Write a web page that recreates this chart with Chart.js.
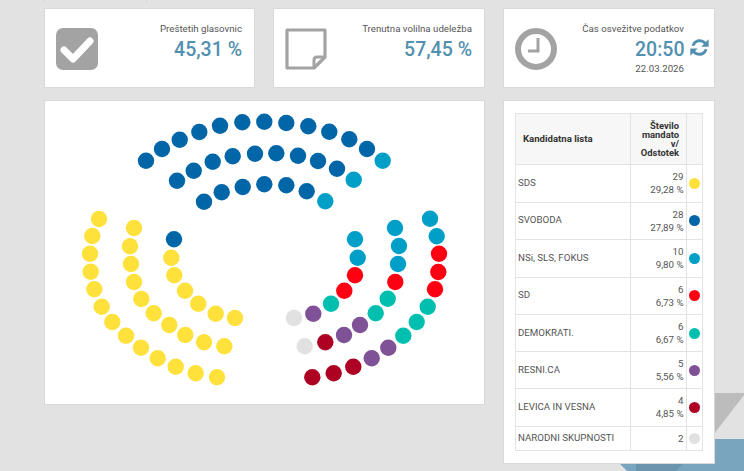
<!DOCTYPE html>
<html lang="sl"><head><meta charset="utf-8">
<script src="https://cdn.jsdelivr.net/npm/chart.js@4"></script>
<style>
html,body{margin:0;padding:0;width:744px;height:471px;overflow:hidden;background:#e2e2e2;font-family:Roboto,sans-serif;color:#555}
.abs{position:absolute}
.card{position:absolute;background:#fff;box-sizing:border-box;border:1px solid #d9d9d9}
.lbl{position:absolute;right:12px;top:12.500px;font-size:9.7px;line-height:13px;white-space:nowrap;color:#555}
.val{position:absolute;right:12px;top:29px;font-size:19.500px;line-height:24px;font-weight:500;color:#5290b0;white-space:nowrap}
table{position:absolute;left:515px;top:113px;width:187px;border-collapse:collapse;table-layout:fixed;font-size:9.7px;line-height:13px;color:#555}
td,th{border:1px solid #e3e3e3;padding:0;box-sizing:border-box}
th{background:#f7f7f7;color:#333;font-weight:700;font-size:9.4px;line-height:9.1px}
td.n{padding-left:2px;padding-bottom:2px}
td.v{text-align:right;padding-right:2.5px;line-height:13px}
.dot{display:block;width:11px;height:11px;border-radius:50%;margin:0 auto}
</style></head><body>
<svg class="abs" style="left:0;top:0" width="744" height="471">
<polygon points="714,393 744,393 744,395 714,434" fill="#bcbcbc"/>
<polygon points="714,439 744,439 744,471 714,471" fill="#7aa5bf"/>
<polygon points="619,463 714,463 714,471 627,471" fill="#7aa5bf"/>
<polygon points="636,463 684,463 676,471 636,471" fill="#6b95ae"/>
<rect x="44" y="0" width="1" height="2" fill="#d4d4d4"/><rect x="146" y="0" width="1" height="2" fill="#d4d4d4"/>
</svg>

<div class="card" style="left:44px;top:8px;width:211px;height:80px">
<svg class="abs" style="left:11px;top:19px" width="42" height="42"><rect x="0" y="0" width="42" height="42" rx="7" fill="#a3a3a3"/><path d="M8 22 L17 31 L34 13" fill="none" stroke="#fff" stroke-width="7" stroke-linejoin="round" stroke-linecap="round"/></svg>
<div class="lbl">Preštetih glasovnic</div><div class="val">45,31 %</div></div>

<div class="card" style="left:273px;top:8px;width:212px;height:80px">
<svg class="abs" style="left:11px;top:19px" width="42" height="42"><path d="M2 2 H40 V29 L29 40 H2 Z" fill="none" stroke="#a3a3a3" stroke-width="3.2" stroke-linejoin="round"/><path d="M40 29 H32 Q29 29 29 32 V40" fill="none" stroke="#a3a3a3" stroke-width="3"/></svg>
<div class="lbl">Trenutna volilna udeležba</div><div class="val">57,45 %</div></div>

<div class="card" style="left:503px;top:8px;width:212px;height:80px">
<svg class="abs" style="left:11px;top:19px" width="42" height="42"><circle cx="21" cy="21" r="18" fill="none" stroke="#a3a3a3" stroke-width="6"/><path d="M23 10 V23 H13" fill="none" stroke="#a3a3a3" stroke-width="3"/></svg>
<div class="lbl" style="right:30px">Čas osvežitve podatkov</div>
<div class="val" style="right:29.500px">20:50</div>
<svg class="abs" style="right:4px;top:28px" width="21" height="21" viewBox="0 0 24 24"><path d="M3 10 C4 5 8 2.500 12 2.500 C15 2.500 17.500 3.800 19.200 5.700 L22.500 2.500 V11 H14 L17 8 C15.800 6.700 14 6 12 6 C9 6 7 7.800 6.400 10 Z M21 14 C20 19 16 21.500 12 21.500 C9 21.500 6.500 20.200 4.800 18.300 L1.500 21.500 V13 H10 L7 16 C8.200 17.300 10 18 12 18 C15 18 17 16.200 17.600 14 Z" fill="#5290b0"/></svg>
<div class="lbl" style="right:30px;top:53px">22.03.2026</div></div>

<div class="card" style="left:44px;top:100px;width:441px;height:305px"></div>
<canvas id="seats" class="abs" style="left:44px;top:100px" width="440" height="304"></canvas>

<div class="card" style="left:503px;top:100px;width:212px;height:364px"></div>
<table id="t"><colgroup><col style="width:115px"><col style="width:56px"><col style="width:16px"></colgroup>
<thead><tr style="height:51px"><th style="text-align:left;padding-left:7px;font-size:9.6px">Kandidatna lista</th><th style="text-align:right;padding-right:7px">Število<br>mandato<br>v/<br>Odstotek</th><th></th></tr></thead><tbody></tbody></table>

<script>
const parties  = ["SDS","SVOBODA","NSi, SLS, FOKUS","SD","DEMOKRATI.","RESNI.CA","LEVICA IN VESNA","NARODNI SKUPNOSTI"];
const mandates = [29,28,10,6,6,5,4,2];
const percents = ["29,28 %","27,89 %","9,80 %","6,73 %","6,67 %","5,56 %","4,85 %",""];
const colors   = ["#ffe13b","#0066a8","#009fc8","#ff0013","#00bfae","#7f5196","#ad0022","#e1e1e1"];

const seatsSDS = [[99,219],[92.3,236],[90,253.7],[90.7,271.7],[94.3,289.3],[101.7,306.7],[112.3,322],[126,335.7],[141,347.7],[157.7,358.3],[175.7,366.7],[195.7,373.3],[217,377.3],
 [134,228],[130,246.3],[131,264],[134,282],[141.3,299],[153.7,313.3],[169.3,325],[185.3,335],[204,342.3],[224.3,346.3],
 [171.3,257.7],[174.3,275.3],[185,290.7],[198.3,303.7],[215.7,313.7],[235,318]];
const seatsSvoboda = [[146,160.7],[162,149],[179.7,139.7],[199.3,132],[220,125.7],[242.3,122.3],[264.3,121.7],[286.3,123],[308.3,126.3],[329.3,131.7],[349.3,139.3],[367,149],
 [177,180.7],[193.7,170.7],[212.7,161.7],[232.7,156.3],[255,153.7],[276.3,153.3],[298,155.7],[318,161],[337,168.7],
 [204,201.7],[221.7,192.3],[242.7,187],[264.3,184.3],[286.3,185.3],[306.7,191.3],
 [174,239.3]];
const seatsNSi = [[382.7,160.7],[353.7,179.7],[325.3,201.3],[430,218.7],[436.7,236.3],[395,228],[399,246],[398,264],[355,239.3],[357.7,257.7]];
const seatsSD = [[439,253.7],[438.3,272],[435,289.3],[395.3,282],[355,275.3],[344.3,290.7]];
const seatsDemokrati = [[427.7,306.7],[416.7,322],[403.3,335.7],[387.7,298.7],[375.7,313.3],[331,303.7]];
const seatsResni = [[388.3,347.7],[371.7,358.3],[360,325],[344,335],[313.3,313.7]];
const seatsLevica = [[353.3,366.7],[333.7,373.3],[312.3,377.3],[325.3,342.3]];
const seatsNarodni = [[304.7,346.3],[294,318]];
const seatLists = [seatsSDS,seatsSvoboda,seatsNSi,seatsSD,seatsDemokrati,seatsResni,seatsLevica,seatsNarodni];

const rowHeights = [37.5,37.5,37.5,37.5,37,37,37.5,24.5];
const tb = document.querySelector('#t tbody');
parties.forEach((p,i)=>{
  const tr=document.createElement('tr'); tr.style.height=rowHeights[i]+'px';
  const v = percents[i] ? mandates[i]+'<br>'+percents[i] : mandates[i];
  tr.innerHTML=`<td class="n"></td><td class="v">${v}</td><td><span class="dot" style="background:${colors[i]}"></span></td>`;
  tr.firstChild.textContent=p;
  tb.appendChild(tr);
});

new Chart(document.getElementById('seats'),{
  type:'scatter',
  data:{datasets:parties.map((p,i)=>({label:p,
    data:seatLists[i].map(s=>({x:s[0],y:s[1]})),
    backgroundColor:colors[i],borderWidth:0,pointRadius:8.2,pointHoverRadius:8.2}))},
  options:{responsive:false,animation:false,devicePixelRatio:1,
    layout:{padding:0,autoPadding:false},
    plugins:{legend:{display:false},tooltip:{enabled:false}},
    scales:{x:{type:'linear',display:false,min:44,max:484},
            y:{type:'linear',display:false,min:100,max:404,reverse:true}}}
});
</script>
</body></html>
